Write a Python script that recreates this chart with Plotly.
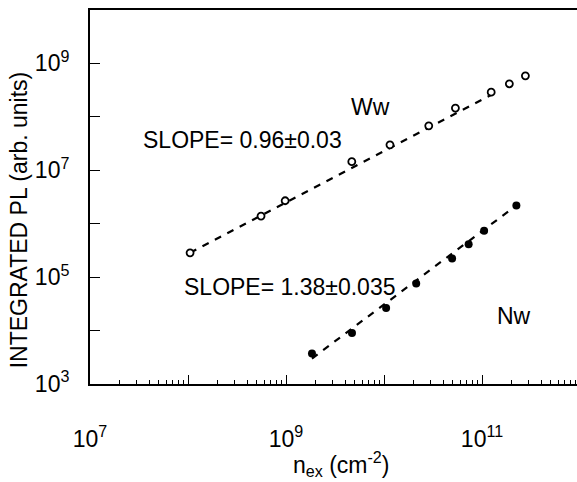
import plotly.graph_objects as go

# Ww (open circles)
ww_x = [1.05e8, 5.56e8, 9.8e8, 4.69e9, 1.15e10, 2.86e10, 5.35e10, 1.24e11, 1.9e11, 2.77e11]
ww_y = [2.85e5, 1.39e6, 2.69e6, 1.45e7, 2.99e7, 6.78e7, 1.46e8, 2.9e8, 4.16e8, 5.87e8]
# Nw (filled circles)
nw_x = [1.84e9, 4.71e9, 1.05e10, 2.13e10, 4.95e10, 7.3e10, 1.05e11, 2.24e11]
nw_y = [3.73e3, 8.97e3, 2.64e4, 7.59e4, 2.23e5, 4.14e5, 7.41e5, 2.19e6]
# dashed fit lines (end points)
fit_ww_x = [1.05e8, 1.3e11]
fit_ww_y = [2.85e5, 2.7e8]
fit_nw_x = [1.84e9, 2.24e11]
fit_nw_y = [3.0e3, 2.2e6]

x_major = [1e7, 1e8, 1e9, 1e10, 1e11]
x_major_text = ["10<sup>7</sup>", "", "10<sup>9</sup>", "", "10<sup>11</sup>"]
y_major = [1e3, 1e4, 1e5, 1e6, 1e7, 1e8, 1e9, 1e10]
y_major_text = ["10<sup>3</sup>", "", "10<sup>5</sup>", "", "10<sup>7</sup>", "", "10<sup>9</sup>", ""]
x_minor = [m * d for d in [1e7, 1e8, 1e9, 1e10, 1e11] for m in range(2, 10)]

FONT = "Liberation Sans, Arial, sans-serif"

fig = go.Figure()
fig.add_trace(go.Scatter(x=fit_ww_x, y=fit_ww_y, mode="lines",
                         line=dict(color="black", width=2.2, dash="7px,7px"), showlegend=False))
fig.add_trace(go.Scatter(x=fit_nw_x, y=fit_nw_y, mode="lines",
                         line=dict(color="black", width=2.2, dash="7px,7px"), showlegend=False))
fig.add_trace(go.Scatter(x=ww_x, y=ww_y, mode="markers",
                         marker=dict(symbol="circle", size=7, color="white",
                                     line=dict(color="black", width=1.8)), showlegend=False))
fig.add_trace(go.Scatter(x=nw_x, y=nw_y, mode="markers",
                         marker=dict(symbol="circle", size=8, color="black",
                                     line=dict(color="black", width=0)), showlegend=False))

fig.update_layout(
    width=577, height=482,
    margin=dict(l=90, r=0, t=10, b=98),
    paper_bgcolor="white", plot_bgcolor="white",
    font=dict(family=FONT, color="black", size=23),
    showlegend=False,
    xaxis=dict(type="log", range=[7, 11.969], showgrid=False, zeroline=False,
               showline=True, linecolor="black", linewidth=2, mirror=True,
               ticks="inside", ticklen=9, tickwidth=1.2, tickcolor="black",
               tickvals=x_major, ticktext=x_major_text, tickfont=dict(size=23),
               ticklabelstandoff=33,
               minor=dict(ticks="inside", ticklen=4, tickwidth=1, tickcolor="black",
                          tickvals=x_minor, showgrid=False)),
    yaxis=dict(type="log", range=[3, 10], showgrid=False, zeroline=False,
               showline=True, linecolor="black", linewidth=2, mirror=False,
               ticks="inside", ticklen=10, tickwidth=1.2, tickcolor="black",
               tickvals=y_major, ticktext=y_major_text, tickfont=dict(size=23),
               ticklabelstandoff=14),
)

annotations = [
    dict(text="INTEGRATED PL (arb. units)", x=-0.144, y=0.44, xref="paper", yref="paper",
         textangle=-90, showarrow=False, font=dict(size=23), xanchor="center", yanchor="middle"),
    dict(text="n<sub>ex</sub> (cm<sup>-2</sup>)", x=0.517, y=-0.215, xref="paper", yref="paper",
         showarrow=False, font=dict(size=23), xanchor="center", yanchor="middle"),
    dict(text="SLOPE= 0.96±0.03", x=(242 - 90) / 487, y=(384 - 140) / 374, xref="paper", yref="paper",
         showarrow=False, font=dict(size=23), xanchor="center", yanchor="middle"),
    dict(text="SLOPE= 1.38±0.035", x=(289 - 90) / 487, y=(384 - 287) / 374, xref="paper", yref="paper",
         showarrow=False, font=dict(size=23), xanchor="center", yanchor="middle"),
    dict(text="Ww", x=(370 - 90) / 487, y=(384 - 107) / 374, xref="paper", yref="paper",
         showarrow=False, font=dict(size=23), xanchor="center", yanchor="middle"),
    dict(text="Nw", x=(514 - 90) / 487, y=(384 - 316) / 374, xref="paper", yref="paper",
         showarrow=False, font=dict(size=23), xanchor="center", yanchor="middle"),
]
fig.update_layout(annotations=annotations)

fig.write_html("out.html")
